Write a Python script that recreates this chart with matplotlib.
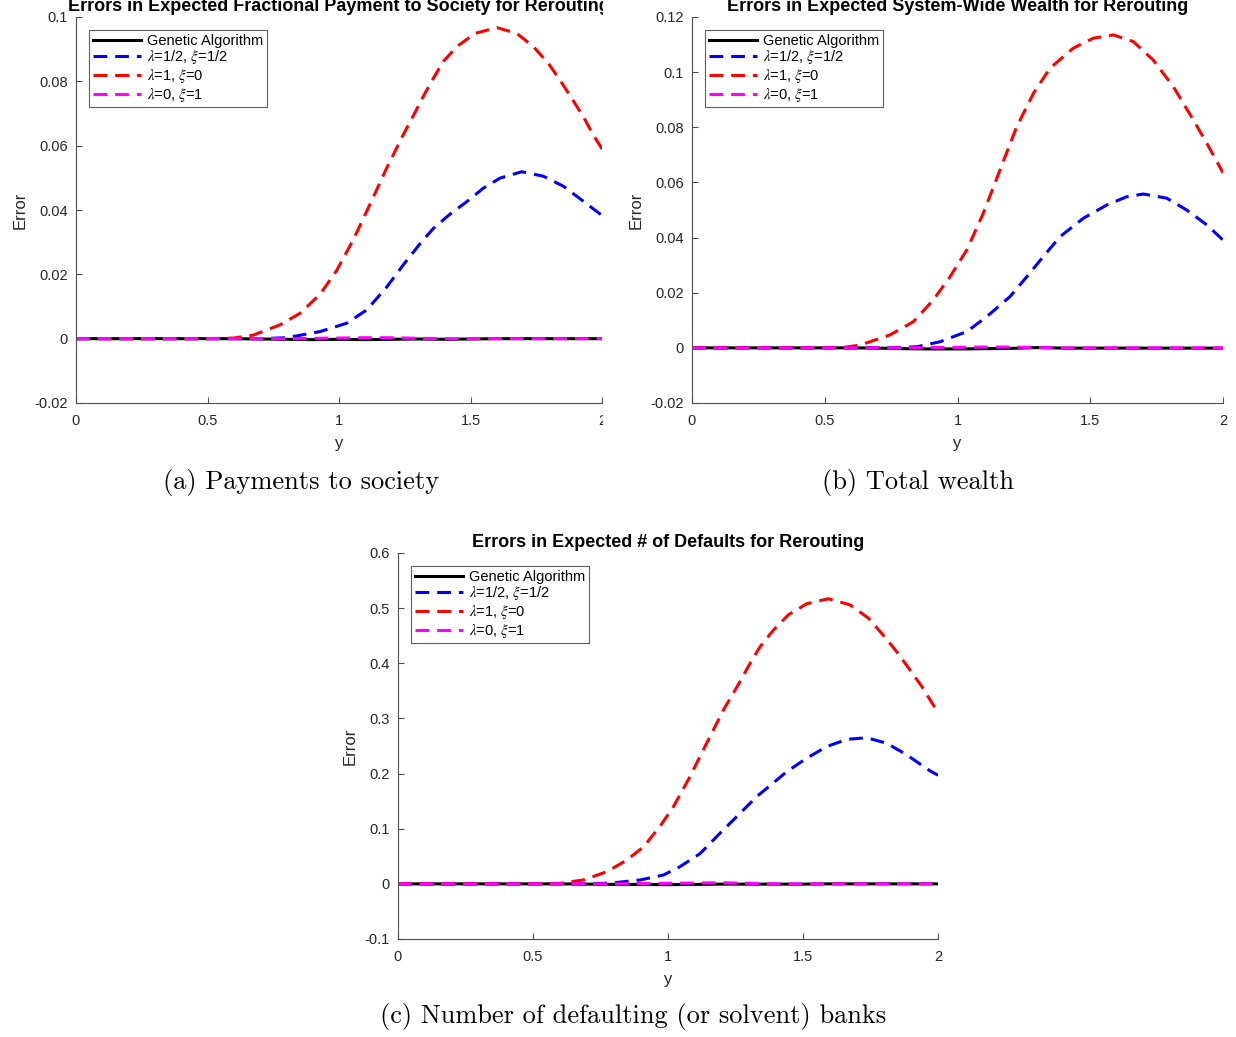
import numpy as np
import matplotlib
matplotlib.use("Agg")
import matplotlib.pyplot as plt
from matplotlib.ticker import FuncFormatter, FixedLocator
from matplotlib.transforms import Bbox, TransformedBbox

plt.rcParams['font.family'] = ['Liberation Sans', 'DejaVu Sans']
plt.rcParams['mathtext.fontset'] = 'stix'
plt.rcParams['axes.unicode_minus'] = False

# ---------------- data ----------------
labels = ['Genetic Algorithm', r'$\lambda$=1/2, $\xi$=1/2', r'$\lambda$=1, $\xi$=0', r'$\lambda$=0, $\xi$=1']
titles = ['Errors in Expected Fractional Payment to Society for Rerouting',
          'Errors in Expected System-Wide Wealth for Rerouting',
          'Errors in Expected # of Defaults for Rerouting']
captions = ['(a) Payments to society', '(b) Total wealth', '(c) Number of defaulting (or solvent) banks']

ga_x = [0.0, 0.1, 0.2, 0.3, 0.4, 0.5, 0.6, 0.7, 0.8, 0.9, 1.0, 1.1, 1.2, 1.3, 1.4, 1.5, 1.6, 1.7, 1.8, 1.9, 2.0]

# (a) payments to society
a_red_x = [0.0, 0.5, 0.6, 0.674, 0.776, 0.852, 0.928, 0.991, 1.054, 1.118, 1.181, 1.245, 1.289, 1.321, 1.359,
           1.397, 1.448, 1.517, 1.600, 1.676, 1.739, 1.796, 1.840, 1.885, 1.929, 1.967, 2.0]
a_red_y = [0.0, 0.0, 0.0002, 0.0011, 0.0043, 0.0079, 0.0138, 0.0212, 0.0307, 0.0418, 0.0530, 0.0635, 0.0703,
           0.0754, 0.0810, 0.0862, 0.0908, 0.0949, 0.0967, 0.0949, 0.0908, 0.0856, 0.0804, 0.0747, 0.0690,
           0.0633, 0.0590]
a_blue_x = [0.0, 0.7, 0.801, 0.928, 1.029, 1.105, 1.181, 1.245, 1.308, 1.359, 1.422, 1.486, 1.549, 1.612,
            1.695, 1.777, 1.853, 1.923, 2.0]
a_blue_y = [0.0, 0.0, 0.0003, 0.0022, 0.0048, 0.0089, 0.0160, 0.0230, 0.0295, 0.0343, 0.0387, 0.0426, 0.0468,
            0.0499, 0.0519, 0.0505, 0.0474, 0.0431, 0.0383]
a_ga_y = [0, 0, 0, 0, 0, 0, 0, -0.0001, -0.0002, -0.0003, -0.0002, -0.0003, -0.0002, -0.0001, -0.0002,
          -0.0001, 0, 0, 0, 0, 0]
a_mag_y = [0, 0, 0, 0, 0, 0, 0, 0, 0, 0.0001, 0.0002, 0.0003, 0.0003, 0.0001, 0, 0, 0, 0, 0, 0, 0]

# (b) total wealth
b_red_x = [0.0, 0.5, 0.58, 0.633, 0.746, 0.834, 0.909, 0.972, 1.035, 1.097, 1.160, 1.223, 1.286, 1.348, 1.436,
           1.511, 1.587, 1.662, 1.737, 1.813, 1.888, 1.939, 2.0]
b_red_y = [0.0, 0.0, 0.0003, 0.0010, 0.0047, 0.0095, 0.0174, 0.0258, 0.0355, 0.0488, 0.0645, 0.0802, 0.0923,
           0.1014, 0.1087, 0.1123, 0.1135, 0.1111, 0.1044, 0.0947, 0.0827, 0.0742, 0.0635]
b_blue_x = [0.0, 0.75, 0.846, 0.934, 1.035, 1.110, 1.198, 1.261, 1.323, 1.386, 1.474, 1.562, 1.637, 1.700,
            1.788, 1.863, 1.939, 2.0]
b_blue_y = [0.0, 0.0, 0.0004, 0.0022, 0.0059, 0.0113, 0.0186, 0.0258, 0.0331, 0.0403, 0.0470, 0.0518, 0.0548,
            0.0558, 0.0543, 0.0500, 0.0446, 0.0391]
b_ga_y = [0, 0, 0, 0, 0, 0, 0, -0.0001, -0.0003, -0.0004, -0.0004, -0.0003, -0.0002, 0.0001, -0.0001,
          -0.0001, -0.0001, -0.0001, -0.0001, -0.0001, -0.0001]
b_mag_y = [0, 0, 0, 0, 0, 0, 0, 0, 0, 0.0001, 0.0002, 0.0003, 0.0003, 0.0001, 0, 0, 0, 0, 0, 0, 0]

# (c) number of defaults
c_red_x = [0.0, 0.5, 0.6, 0.686, 0.773, 0.847, 0.909, 0.970, 1.020, 1.081, 1.143, 1.205, 1.267, 1.304, 1.341,
           1.390, 1.446, 1.514, 1.594, 1.674, 1.742, 1.797, 1.847, 1.896, 1.940, 1.983, 2.0]
c_red_y = [0.0, 0.0, 0.001, 0.007, 0.022, 0.043, 0.067, 0.104, 0.140, 0.194, 0.255, 0.315, 0.367, 0.400, 0.430,
           0.460, 0.488, 0.508, 0.517, 0.506, 0.482, 0.451, 0.421, 0.388, 0.358, 0.324, 0.312]
c_blue_x = [0.0, 0.7, 0.79, 0.896, 0.983, 1.044, 1.119, 1.193, 1.267, 1.328, 1.402, 1.440, 1.514, 1.588,
            1.662, 1.736, 1.810, 1.884, 1.970, 2.0]
c_blue_y = [0.0, 0.0, 0.0015, 0.007, 0.016, 0.031, 0.055, 0.092, 0.128, 0.158, 0.188, 0.2035, 0.228, 0.249,
            0.262, 0.265, 0.255, 0.234, 0.205, 0.197]
c_ga_y = [0, 0, 0, 0, 0, 0, 0, -0.0005, -0.001, -0.001, -0.0015, -0.001, -0.0005, -0.0005, -0.0005,
          -0.0005, 0, 0, 0, 0, 0]
c_mag_y = [0, 0, 0, 0, 0, 0, 0, 0, 0, 0.0005, 0.001, 0.0015, 0.002, 0.001, 0, 0, 0, 0, 0, 0, 0]

ylims = [(-0.02, 0.1), (-0.02, 0.12), (-0.1, 0.6)]
yticks = [[-0.02, 0, 0.02, 0.04, 0.06, 0.08, 0.1],
          [-0.02, 0, 0.02, 0.04, 0.06, 0.08, 0.1, 0.12],
          [-0.1, 0, 0.1, 0.2, 0.3, 0.4, 0.5, 0.6]]
xticks = [0, 0.5, 1, 1.5, 2]

panels = [
    (a_ga_y, a_blue_x, a_blue_y, a_red_x, a_red_y, a_mag_y),
    (b_ga_y, b_blue_x, b_blue_y, b_red_x, b_red_y, b_mag_y),
    (c_ga_y, c_blue_x, c_blue_y, c_red_x, c_red_y, c_mag_y),
]

# ---------------- layout ----------------
W, H = 1236, 1037
fig = plt.figure(figsize=(W / 100, H / 100), dpi=100)

def px_axes(l, t, r, b):
    return fig.add_axes([l / W, 1 - b / H, (r - l) / W, (b - t) / H])

axes = [px_axes(76, 17, 602, 403), px_axes(692, 17, 1223, 403), px_axes(398, 553, 938, 939)]
legend_pos = [(89, 30), (705, 30), (411, 566)]
caption_pos = [(301, 482), (918, 482), (633, 1017)]

spine_col = '#4d4d4d'
txt_col = '#262626'
dash = (4.5, 2.6)

for i, ax in enumerate(axes):
    ga_y, bx, by, rx, ry, my = panels[i]
    ax.plot(ga_x, ga_y, color='black', lw=2.2, label=labels[0], solid_joinstyle='round')
    ax.plot(bx, by, color='blue', lw=2.2, ls=(0, dash), label=labels[1])
    ax.plot(rx, ry, color='red', lw=2.2, ls=(0, dash), label=labels[2])
    ax.plot(ga_x, my, color='magenta', lw=2.2, ls=(0, dash), label=labels[3])

    ax.set_xlim(0, 2)
    ax.set_ylim(*ylims[i])
    ax.xaxis.set_major_locator(FixedLocator(xticks))
    ax.yaxis.set_major_locator(FixedLocator(yticks[i]))
    fmt = FuncFormatter(lambda v, p: '%g' % round(v, 6))
    ax.xaxis.set_major_formatter(fmt)
    ax.yaxis.set_major_formatter(fmt)
    for s in ['top', 'right']:
        ax.spines[s].set_visible(False)
    for s in ['left', 'bottom']:
        ax.spines[s].set_color(spine_col)
        ax.spines[s].set_linewidth(0.8)
    ax.tick_params(direction='in', length=4, width=0.8, color=spine_col, labelcolor=txt_col,
                   labelsize=10.5, pad=6)
    ax.tick_params(axis='x', pad=8)
    ax.set_xlabel('y', fontsize=12, color=txt_col, labelpad=6)
    ax.set_ylabel('Error', fontsize=12, color=txt_col, labelpad=5)
    ax.set_title(titles[i], fontsize=13, fontweight='bold', pad=4)

    lx, ly = legend_pos[i]
    leg = ax.legend(loc='upper left',
                    bbox_to_anchor=(lx / W, 1 - ly / H), bbox_transform=fig.transFigure,
                    fontsize=10.5, frameon=True, fancybox=False, borderaxespad=0,
                    handlelength=3.3, handletextpad=0.4, labelspacing=0.05,
                    borderpad=0.25)
    leg.get_frame().set_edgecolor('#333333')
    leg.get_frame().set_linewidth(0.8)

    cx, cy = caption_pos[i]
    fig.text(cx / W, 1 - cy / H, captions[i], ha='center', va='center',
             fontsize=19, family='cmr10')

# clip panel (a) title and right tick label like the cropped subfigure
clip = TransformedBbox(Bbox([[0, 0], [603 / W, 1]]), fig.transFigure)
t = axes[0].title
t.set_clip_box(clip)
t.set_clip_on(True)
fig.canvas.draw()
for lab in axes[0].get_xticklabels():
    lab.set_clip_box(clip)
    lab.set_clip_on(True)

fig.savefig('out.png', dpi=100)
